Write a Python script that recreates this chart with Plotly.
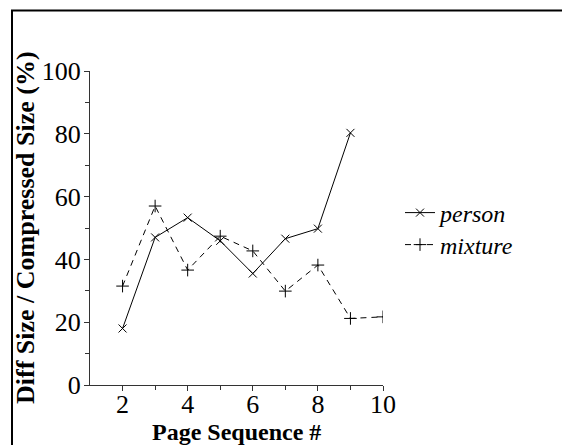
import plotly.graph_objects as go

pages_person = [2, 3, 4, 5, 6, 7, 8, 9]
person = [18.0, 47.0, 53.3, 45.9, 35.5, 46.6, 49.8, 80.3]
pages_mixture = [2, 3, 4, 5, 6, 7, 8, 9, 10]
mixture = [31.5, 57.0, 36.6, 47.4, 42.7, 29.9, 38.2, 21.2, 21.7]

W, H = 562, 445
L, R, T, B = 90, 179, 71, 60
pw = W - L - R
ph = H - T - B

def px_x(p):
    return (p - L) / pw

def px_y(p):
    return (H - B - p) / ph

font = "Liberation Serif"

fig = go.Figure()
fig.add_trace(go.Scatter(
    x=pages_person, y=person, name="person", mode="lines+markers",
    line=dict(color="black", width=1),
    marker=dict(symbol="x-thin", size=8, line=dict(color="black", width=1)),
    legend="legend",
))
fig.add_trace(go.Scatter(
    x=pages_mixture, y=mixture, name="mixture", mode="lines+markers",
    line=dict(color="black", width=1, dash="6px,5px"),
    marker=dict(symbol="cross-thin", size=9, line=dict(color="black", width=1)),
    legend="legend2",
))

leg_common = dict(
    xanchor="left", yanchor="middle",
    font=dict(family=font, size=24, style="italic", color="black"),
    bgcolor="rgba(0,0,0,0)", borderwidth=0, itemwidth=30,
)

fig.update_layout(
    width=W, height=H,
    margin=dict(l=L, r=R, t=T, b=B),
    paper_bgcolor="white", plot_bgcolor="white",
    font=dict(family=font, size=26, color="black"),
    showlegend=True,
    legend=dict(x=px_x(400), y=px_y(213), **leg_common),
    legend2=dict(x=px_x(400), y=px_y(245), **leg_common),
    xaxis=dict(
        range=[1, 10], tickvals=[2, 4, 6, 8, 10], ticks="outside", ticklen=5,
        tickcolor="#333", showline=True, linecolor="#333", linewidth=1,
        showgrid=False, zeroline=False, ticklabelstandoff=-9,
        minor=dict(tickvals=[3, 5, 7, 9], ticks="outside", ticklen=4, tickcolor="#333"),
        tickfont=dict(family=font, size=26, color="black"),
    ),
    yaxis=dict(
        range=[0, 100], tickvals=[0, 20, 40, 60, 80, 100], ticks="outside", ticklen=5,
        tickcolor="#333", showline=True, linecolor="#333", linewidth=1,
        showgrid=False, zeroline=False, ticklabelstandoff=-2,
        minor=dict(tickvals=[10, 30, 50, 70, 90], ticks="outside", ticklen=4, tickcolor="#333"),
        tickfont=dict(family=font, size=26, color="black"),
    ),
    annotations=[
        dict(text="<b>Page Sequence #</b>", xref="paper", yref="paper",
             x=0.5, y=px_y(432), xanchor="center", yanchor="middle",
             showarrow=False, font=dict(family=font, size=24, color="black")),
        dict(text="<b>Diff Size / Compressed Size (%)</b>", xref="paper", yref="paper",
             x=px_x(25), y=0.5, xanchor="center", yanchor="middle", textangle=-90,
             showarrow=False, font=dict(family=font, size=26, color="black")),
    ],
    shapes=[
        dict(type="rect", xref="paper", yref="paper",
             x0=px_x(12), y0=px_y(470), x1=px_x(600), y1=px_y(10.5),
             line=dict(color="black", width=2), fillcolor="rgba(0,0,0,0)", layer="above"),
    ],
)

fig.write_html("out.html")
